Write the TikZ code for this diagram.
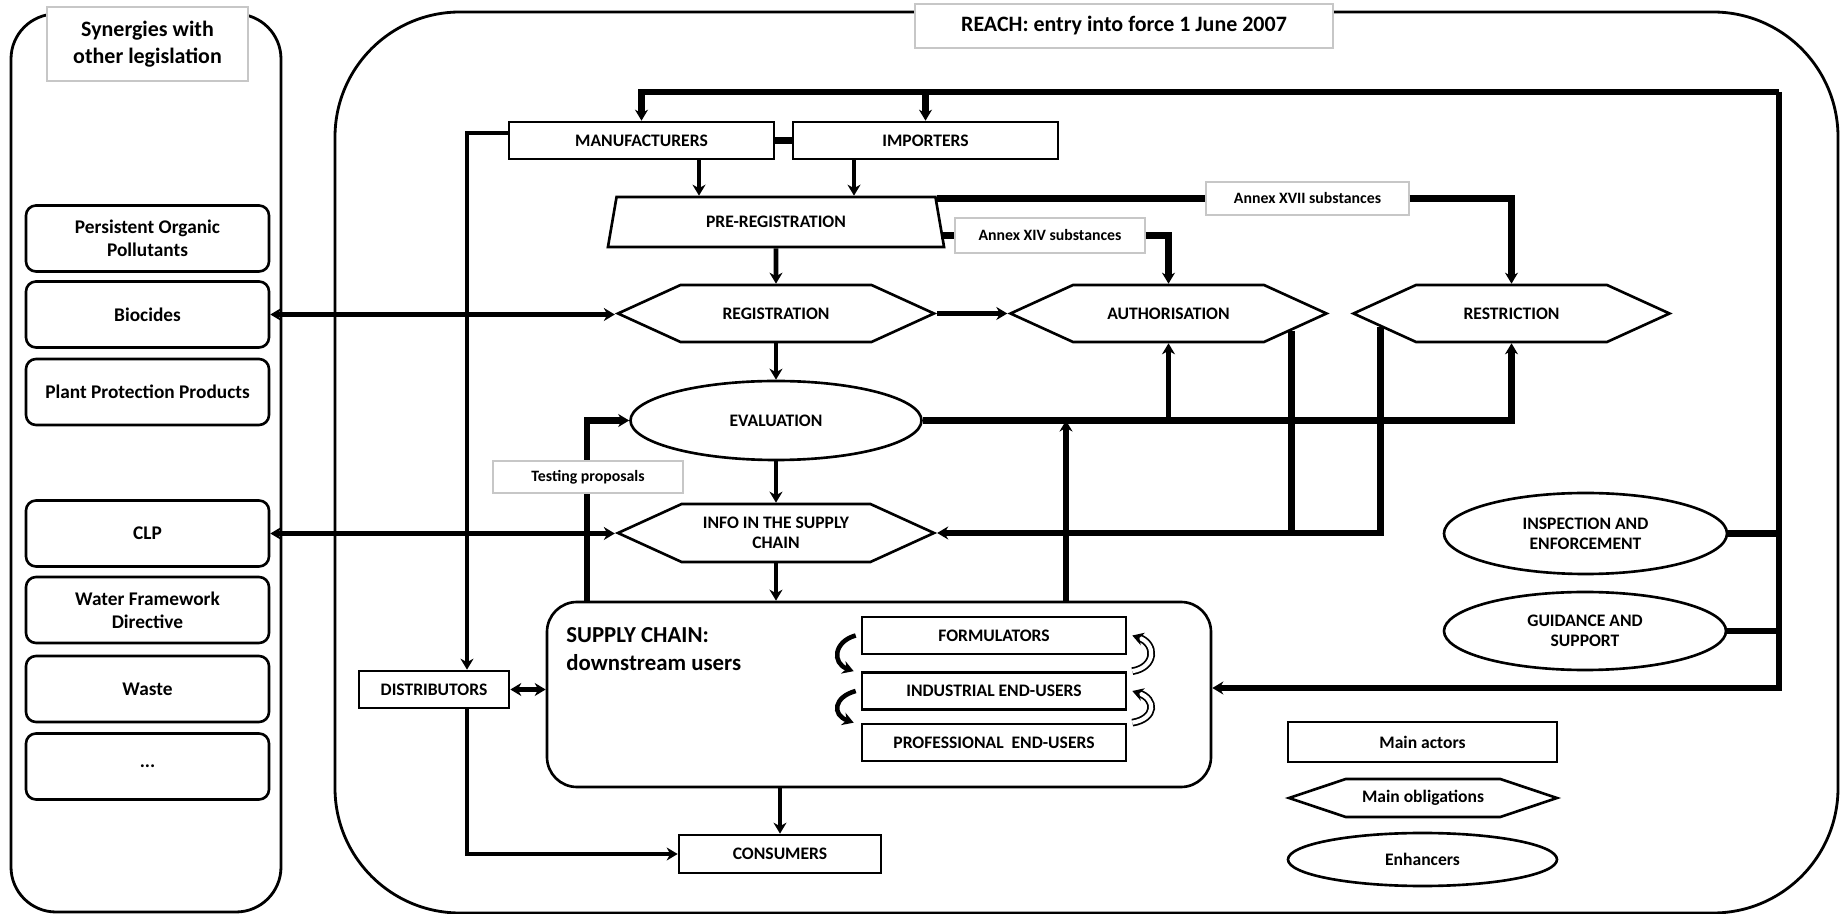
\documentclass[tikz,border=0pt]{standalone}
\usepackage{fontspec}
\setmainfont{Carlito}
\usetikzlibrary{positioning,shapes,arrows.meta,calc}

\begin{document}
\begin{tikzpicture}[x=0.2mm, y=-0.2mm,
    >={Stealth[length=2.2mm,width=2.6mm]},
    base/.style={
        draw=black,
        line width=1.5pt,
        fill=white,
        align=center,
        inner sep=2pt,
        font=\bfseries\fontsize{10}{11.5}\selectfont
    },
    actor/.style={
        base,
        rectangle,
        minimum height=7.4mm
    },
    obligation/.style={
        base,
        signal,
        signal to=east and west,
        signal pointer angle=49,
        minimum width=63.2mm,
        minimum height=11.4mm
    },
    enhancer/.style={
        base,
        ellipse
    },
    legislation/.style={
        base,
        rectangle,
        rounded corners=2mm,
        minimum width=48.6mm,
        minimum height=13.2mm,
        font=\bfseries\fontsize{11}{13}\selectfont
    },
    tag/.style={
        draw=black!22,
        line width=0.8pt,
        fill=white,
        align=center,
        font=\bfseries\fontsize{9}{11}\selectfont
    },
    frame/.style={draw=black, line width=1.6pt},
    arrow/.style={->, line width=2.8pt},
    link/.style={line width=3.8pt},
    curl/.style={->, line width=2.6pt},
    hollow/.style={->, line width=1pt, double=white, double distance=2.4pt}]

    \useasboundingbox (0,0) rectangle (1842,914);

    % Frames
    \draw[frame, rounded corners=9mm] (11,14) rectangle (281,912);
    \draw[frame, rounded corners=25mm] (335,12) rectangle (1838,913);
    \node[tag, minimum width=40.2mm, minimum height=14.8mm, font=\bfseries\fontsize{12.5}{15}\selectfont] (synergy) at (147.5,44) {Synergies with\\other legislation};
    \node[tag, minimum width=83.6mm, minimum height=8.8mm, font=\bfseries\fontsize{12.5}{15}\selectfont] (reach) at (1124,26) {REACH: entry into force 1 June 2007};

    % Other legislation
    \node[legislation] (pop) at (147.5,238.5) {Persistent Organic\\Pollutants};
    \node[legislation] (bio) at (147.5,314.5) {Biocides};
    \node[legislation] (ppp) at (147.5,392) {Plant Protection Products};
    \node[legislation] (clp) at (147.5,533.5) {CLP};
    \node[legislation] (wfd) at (147.5,610) {Water Framework\\Directive};
    \node[legislation] (waste) at (147.5,689) {Waste};
    \node[legislation] (etc) at (147.5,766.5) {...};

    % Main actors
    \node[actor, minimum width=53mm] (manuf) at (641.5,140.5) {MANUFACTURERS};
    \node[actor, minimum width=53mm] (import) at (925.5,140.5) {IMPORTERS};
    \node[base, trapezium, trapezium left angle=78, trapezium right angle=78,
        trapezium stretches=true, minimum width=67.6mm, minimum height=10mm] (prereg) at (776,222) {PRE-REGISTRATION};
    \node[actor, minimum width=30mm] (distrib) at (434,689.5) {DISTRIBUTORS};
    \node[actor, minimum width=40.4mm, minimum height=7.6mm] (consum) at (780,854) {CONSUMERS};

    % Main obligations
    \node[obligation] (reg) at (776,313.5) {REGISTRATION};
    \node[obligation] (auth) at (1168.5,313.5) {AUTHORISATION};
    \node[obligation] (restr) at (1511.5,313.5) {RESTRICTION};
    \node[obligation, minimum height=11.6mm] (info) at (776,533) {INFO IN THE SUPPLY\\CHAIN};

    % Enhancers
    \node[enhancer, minimum width=58.2mm, minimum height=15.8mm] (eval) at (776,420.5) {EVALUATION};
    \node[enhancer, minimum width=56.6mm, minimum height=16.2mm] (inspect) at (1585.5,533.5) {INSPECTION AND\\ENFORCEMENT};
    \node[enhancer, minimum width=56.4mm, minimum height=15.6mm] (guide) at (1585,631) {GUIDANCE AND\\SUPPORT};

    % Supply chain
    \node[base, rounded corners=6mm, minimum width=132.8mm, minimum height=37mm] (sc) at (879,694.5) {};
    \node[font=\bfseries\fontsize{13}{16}\selectfont, align=left, anchor=north west, inner sep=0pt] (sctitle) at (566,627) {SUPPLY CHAIN:\\downstream users};
    \node[actor, minimum width=52.8mm] (form) at (994,635.5) {FORMULATORS};
    \node[actor, minimum width=52.8mm] (indus) at (994,691) {INDUSTRIAL END-USERS};
    \node[actor, minimum width=52.8mm] (prof) at (994,742.5) {PROFESSIONAL\ \ END-USERS};

    % Substance lists
    \node[tag, minimum width=40.6mm, minimum height=6.6mm] (annexvii) at (1307.5,198.5) {Annex XVII substances};
    \node[tag, minimum width=38mm, minimum height=7mm] (annexiv) at (1050,235.5) {Annex XIV substances};

    % Connect with arrows
    \coordinate (bus) at (1779,92);
    \draw[link, ->] (bus) -| (manuf.north);
    \draw[link, ->] (import.north |- bus) -- (import.north);
    \draw[link, ->] (bus) |- ([yshift=1.3mm]sc.east);
    \draw[link] (inspect.east) -- (inspect.east -| bus);
    \draw[link] (guide.east) -- (guide.east -| bus);
    \draw[link] (manuf) -- (import);

    \draw[arrow] ([yshift=1.5mm]manuf.west) -| ([xshift=6.6mm]distrib.north);
    \draw[arrow] ([xshift=6.6mm]distrib.south) |- (consum.west);
    \draw[arrow, <->] (distrib.east) -- (distrib.east -| sc.west);
    \draw[arrow] ([xshift=11.5mm]manuf.south) -- ([xshift=11.5mm]manuf.south |- prereg.north);
    \draw[arrow] ([xshift=-14.3mm]import.south) -- ([xshift=-14.3mm]import.south |- prereg.north);
    \draw[arrow] (prereg.south) -- (reg.north);

    \draw[link] (prereg.top right corner |- annexvii.west) -- (annexvii.west);
    \draw[link, ->] (annexvii.east) -| (restr.north);
    \draw[link] (prereg.east |- annexiv.west) -- (annexiv.west);
    \draw[link, ->] (annexiv.east) -| (auth.north);

    \draw[arrow, <->] (bio.east) -- (bio.east -| reg.west);
    \draw[arrow] (reg.east) -- (auth.west);
    \draw[arrow] (reg.south) -- (eval.north);
    \draw[link, ->] (eval.east) -| (restr.south);
    \draw[arrow] (auth.south |- eval.east) -- (auth.south);
    \draw[link, ->] ([xshift=37.4mm]sc.north) -- ([xshift=37.4mm]sc.north |- eval.east);

    \draw[link] (auth.352.6) -- (auth.352.6 |- info.east);
    \draw[link, ->] (restr.186.6) |- (info.east);
    \draw[arrow] (eval.south) -- (info.north);
    \draw[arrow] (info.south) -- (sc.north -| info.south);
    \draw[arrow] (sc.south -| consum.north) -- (consum.north);
    \draw[arrow, <->] (clp.east) -- (clp.east -| info.west);

    \draw[link, ->] ([xshift=-58.4mm]sc.north) |- (eval.west);
    \node[tag, minimum width=38mm, minimum height=6.4mm] (testing) at (588,477) {Testing proposals};

    % Exchanges between downstream users
    \draw[curl] ([xshift=-1mm]form.west) .. controls +(-22,6) and +(-22,-8) .. ([xshift=-1.4mm]indus.north west);
    \draw[curl] ([xshift=-1mm]indus.west) .. controls +(-22,6) and +(-22,-8) .. ([xshift=-1.4mm]prof.north west);
    \draw[hollow] ([xshift=1mm]indus.north east) .. controls +(24,-4) and +(24,8) .. ([xshift=1mm]form.east);
    \draw[hollow] ([xshift=1mm]prof.north east) .. controls +(24,-4) and +(24,8) .. ([xshift=1mm]indus.east);

    % Legend
    \node[actor, minimum width=53.8mm, minimum height=8mm] (legactor) at (1422.5,742) {Main actors};
    \node[obligation, signal pointer angle=37, minimum width=53.6mm, minimum height=7.6mm] (legoblig) at (1423,798) {Main obligations};
    \node[enhancer, minimum width=53.8mm, minimum height=10.6mm] (legenh) at (1422.5,859.5) {Enhancers};
\end{tikzpicture}
\end{document}
